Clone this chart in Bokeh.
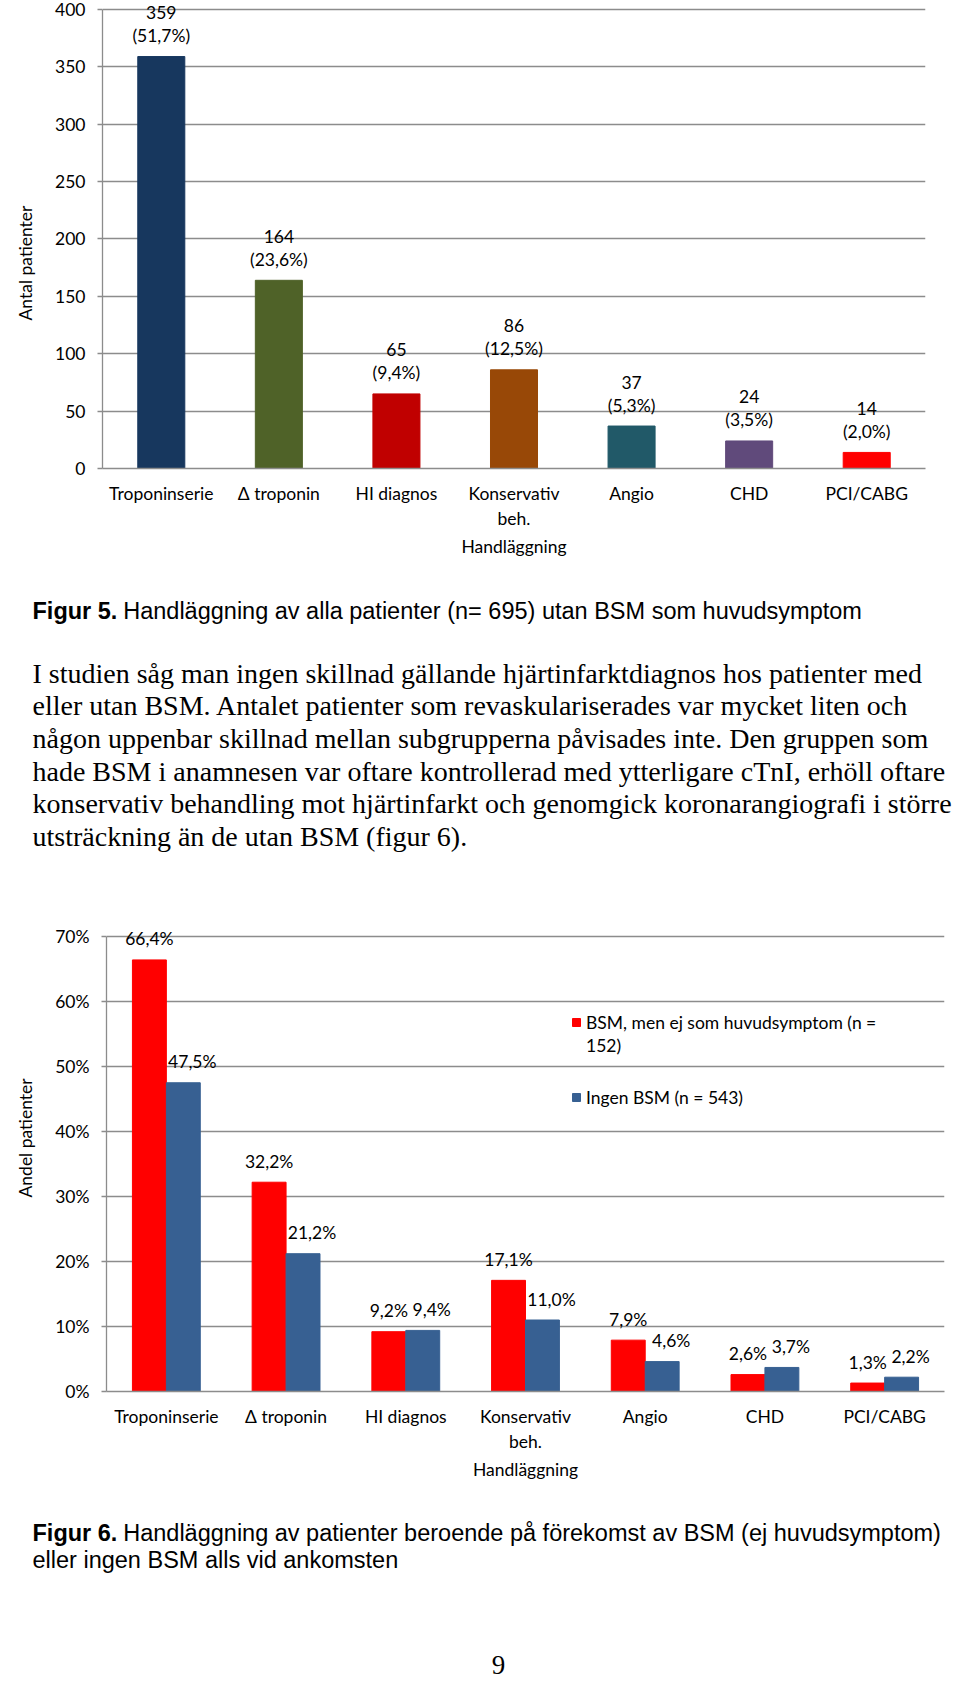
from bokeh.plotting import figure
from bokeh.models import (ColumnDataSource, FactorRange, Range1d, FixedTicker,
                          Legend, LegendItem, Title)
from bokeh.transform import dodge
from bokeh.core.properties import value
from bokeh.embed import file_html
from bokeh.resources import INLINE

# ---------------- data ----------------
categories = ["Troponinserie", "Δ troponin", "HI diagnos", "Konservativ\nbeh.",
              "Angio", "CHD", "PCI/CABG"]
fig5_counts = [359, 164, 65, 86, 37, 24, 14]
fig5_percent = [51.7, 23.6, 9.4, 12.5, 5.3, 3.5, 2.0]
fig5_colors = ["#17375E", "#4F6228", "#C00000", "#984807", "#215968", "#604A7B", "#FF0000"]
fig6_bsm = [66.4, 32.2, 9.2, 17.1, 7.9, 2.6, 1.3]
fig6_ingen = [47.5, 21.2, 9.4, 11.0, 4.6, 3.7, 2.2]
fig6_name_bsm = ["BSM, men ej som huvudsymptom (n =", "152)"]   # wrapped as in the original
fig6_name_ingen = "Ingen BSM (n = 543)"
fig6_colors = ["#FF0000", "#376092"]
y1_ticks = [0, 50, 100, 150, 200, 250, 300, 350, 400]
y2_ticks = [0, 10, 20, 30, 40, 50, 60, 70]
x_title = "Handläggning"
y1_title = "Antal patienter"
y2_title = "Andel patienter"

caption5_bold = "Figur 5."
caption5_rest = "Handläggning av alla patienter (n= 695) utan BSM som huvudsymptom"
body_lines = [
    "I studien såg man ingen skillnad gällande hjärtinfarktdiagnos hos patienter med",
    "eller utan BSM. Antalet patienter som revaskulariserades var mycket liten och",
    "någon uppenbar skillnad mellan subgrupperna påvisades inte. Den gruppen som",
    "hade BSM i anamnesen var oftare kontrollerad med ytterligare cTnI, erhöll oftare",
    "konservativ behandling mot hjärtinfarkt och genomgick koronarangiografi i större",
    "utsträckning än de utan BSM (figur 6).",
]
caption6_bold = "Figur 6."
caption6_rest = "Handläggning av patienter beroende på förekomst av BSM (ej huvudsymptom)"
caption6_line2 = "eller ingen BSM alls vid ankomsten"
page_number = "9"

# ---------------- style ----------------
W = 960
CH_FONT = "Lato"
CH_SIZE = "17.5px"
GRID = "#8C8C8C"
SANS = "Liberation Sans"
SERIF = "Liberation Serif"


def style_chart(p, ticks, overrides, y_title, title_offset, title_standoff):
    p.outline_line_color = None
    p.xgrid.visible = False
    p.ygrid.grid_line_color = GRID
    p.ygrid.grid_line_width = 1.3
    p.yaxis.ticker = FixedTicker(ticks=ticks)
    p.yaxis.bounds = (ticks[0], ticks[-1])
    if overrides:
        p.yaxis.major_label_overrides = overrides
    p.yaxis.axis_line_color = GRID
    p.yaxis.axis_line_width = 1.3
    p.yaxis.major_tick_line_color = GRID
    p.yaxis.major_tick_line_width = 1.3
    p.yaxis.major_tick_out = 5
    p.yaxis.major_tick_in = 0
    p.yaxis.minor_tick_line_color = None
    p.yaxis.major_label_standoff = 12
    for ax in (p.xaxis, p.yaxis):
        ax.major_label_text_font = CH_FONT
        ax.major_label_text_font_size = CH_SIZE
        ax.major_label_text_color = "black"
        ax.axis_label_text_font = CH_FONT
        ax.axis_label_text_font_size = CH_SIZE
        ax.axis_label_text_font_style = "normal"
        ax.axis_label_text_color = "black"
    p.xaxis.axis_line_color = GRID
    p.xaxis.axis_line_width = 1.3
    p.xaxis.major_tick_line_color = None
    p.xaxis.minor_tick_line_color = None
    p.xaxis.major_tick_out = 0
    p.xaxis.major_label_standoff = 14
    p.xaxis.axis_label = x_title
    p.xaxis.axis_label_standoff = 4
    # vertical axis title, placed like the original (lower than the axis centre)
    p.add_layout(Title(text=y_title, align="left", vertical_align="top",
                       offset=title_offset, standoff=title_standoff, text_font=CH_FONT,
                       text_font_size=CH_SIZE, text_font_style="normal",
                       text_color="black"), "left")


def make_legend(items, loc):
    return Legend(items=items, location=loc, glyph_width=10, glyph_height=10,
                  label_standoff=5, label_height=23, spacing=0, padding=0, margin=0,
                  border_line_color=None, background_fill_alpha=0,
                  label_text_font=CH_FONT, label_text_font_size=CH_SIZE,
                  label_text_color="black")


# ---------------- figure 5 chart ----------------
p1 = figure(width=W, height=580, x_range=FactorRange(*categories),
            y_range=Range1d(0, 407.84), output_backend="svg", toolbar_location=None,
            title=None, min_border_left=100, min_border_right=35, min_border_top=0,
            min_border_bottom=112)
src1 = ColumnDataSource(dict(
    cat=categories, n=fig5_counts, color=fig5_colors,
    lab1=[str(v) for v in fig5_counts],
    lab2=[("(%.1f%%)" % v).replace(".", ",") for v in fig5_percent]))
p1.vbar(x="cat", top="n", width=0.4, color="color", source=src1)
for col, off in (("lab1", -44), ("lab2", -21)):
    p1.text(x="cat", y="n", text=col, y_offset=off, text_align="center",
            text_baseline="middle", text_font=value(CH_FONT),
            text_font_size=value(CH_SIZE), text_color="black", source=src1)
style_chart(p1, y1_ticks, None, y1_title, 148, 29)

# ---------------- text block ----------------
pt = figure(width=W, height=300, x_range=Range1d(0, W), y_range=Range1d(300, 0),
            x_axis_type=None, y_axis_type=None, output_backend="svg",
            toolbar_location=None, title=None, min_border=0, outline_line_color=None)
pt.text(x=[32], y=[30], text=[caption5_bold], text_font=value(SANS),
        text_font_size=value("23.5px"), text_font_style="bold", text_color="black",
        text_baseline="alphabetic")
pt.text(x=[122.7], y=[30], text=[caption5_rest], text_font=value(SANS),
        text_font_size=value("23.5px"), text_color="black", text_baseline="alphabetic")
pt.text(x=[32] * len(body_lines), y=[92.7 + 32.65 * i for i in range(len(body_lines))],
        text=body_lines, text_font=value(SERIF), text_font_size=value("28px"),
        text_color="black", text_baseline="alphabetic")

# ---------------- figure 6 chart ----------------
p2 = figure(width=W, height=610, x_range=FactorRange(*categories),
            y_range=Range1d(0, 75.54), output_backend="svg", toolbar_location=None,
            title=None, min_border_left=104, min_border_right=16, min_border_top=20,
            min_border_bottom=99)
src2 = ColumnDataSource(dict(
    cat=categories, bsm=fig6_bsm, ingen=fig6_ingen,
    lab_bsm=[("%.1f%%" % v).replace(".", ",") for v in fig6_bsm],
    lab_ingen=[("%.1f%%" % v).replace(".", ",") for v in fig6_ingen]))
r_bsm = p2.vbar(x=dodge("cat", -0.1417, range=p2.x_range), top="bsm", width=0.2833,
                color=fig6_colors[0], source=src2)
r_ing = p2.vbar(x=dodge("cat", 0.1417, range=p2.x_range), top="ingen", width=0.2833,
                color=fig6_colors[1], source=src2)
# renderer without marks, only used to carry the wrapped second line of the legend label
r_wrap = p2.vbar(x=[], top=[], width=0.2833, fill_alpha=0, line_alpha=0)
p2.text(x=dodge("cat", -0.1417, range=p2.x_range), y="bsm", text="lab_bsm", y_offset=-21,
        text_align="center", text_baseline="middle", text_font=value(CH_FONT),
        text_font_size=value(CH_SIZE), text_color="black", source=src2)
p2.text(x=dodge("cat", 0.1417, range=p2.x_range), y="ingen", text="lab_ingen",
        y_offset=-21, x_offset=9, text_align="center", text_baseline="middle",
        text_font=value(CH_FONT), text_font_size=value(CH_SIZE), text_color="black",
        source=src2)
style_chart(p2, y2_ticks, {t: "%d%%" % t for t in y2_ticks}, y2_title, 194, 29)
p2.add_layout(make_legend([LegendItem(label=fig6_name_bsm[0], renderers=[r_bsm]),
                           LegendItem(label=fig6_name_bsm[1], renderers=[r_wrap])],
                          (465, 334.5)))
p2.add_layout(make_legend([LegendItem(label=fig6_name_ingen, renderers=[r_ing])],
                          (465, 282.5)))

# ---------------- caption 6 ----------------
pc = figure(width=W, height=193, x_range=Range1d(0, W), y_range=Range1d(193, 0),
            x_axis_type=None, y_axis_type=None, output_backend="svg",
            toolbar_location=None, title=None, min_border=0, outline_line_color=None)
pc.text(x=[32], y=[42.7], text=[caption6_bold], text_font=value(SANS),
        text_font_size=value("23.5px"), text_font_style="bold", text_color="black",
        text_baseline="alphabetic")
pc.text(x=[122.7], y=[42.7], text=[caption6_rest], text_font=value(SANS),
        text_font_size=value("23.5px"), text_color="black", text_baseline="alphabetic")
pc.text(x=[32], y=[69.3], text=[caption6_line2], text_font=value(SANS),
        text_font_size=value("23.5px"), text_color="black", text_baseline="alphabetic")
pc.text(x=[498], y=[174], text=[page_number], text_font=value(SERIF),
        text_font_size=value("27px"), text_color="black", text_align="center",
        text_baseline="alphabetic")

# separate roots so that each panel keeps its own frame
p = [p1, pt, p2, pc]
open("out.html", "w").write(file_html(p, INLINE))
